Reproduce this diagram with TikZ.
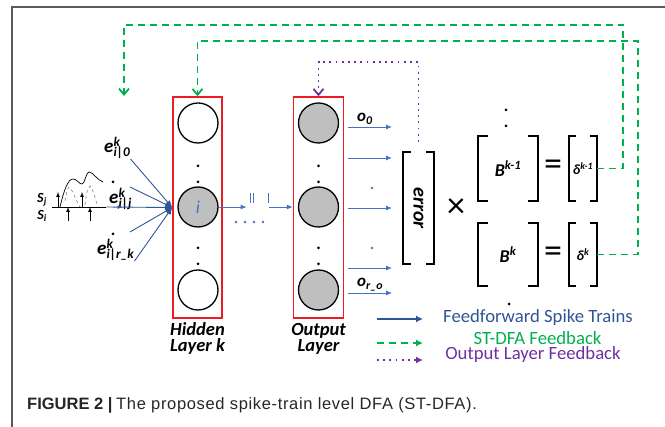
\documentclass[tikz,border=0pt]{standalone}
\usepackage{fontspec}
\setmainfont{Carlito}
\newfontfamily\captionfont{Liberation Sans}
\newfontfamily\captionwide[LetterSpace=4]{Liberation Sans}
\usetikzlibrary{arrows.meta,decorations.markings}
\definecolor{ffblue}{RGB}{68,114,196}
\definecolor{lgblue}{RGB}{47,85,151}
\definecolor{fbgreen}{RGB}{0,176,80}
\definecolor{olpurple}{RGB}{112,48,160}
\definecolor{boxred}{RGB}{237,28,36}
\definecolor{framegray}{RGB}{90,90,90}
\definecolor{cellgray}{RGB}{191,191,191}

\tikzset{
  neuron/.style={circle,draw,line width=1.3pt,minimum size=40pt,inner sep=0pt},
  layerbox/.style={draw=boxred,line width=1.5pt,minimum width=49pt,minimum height=221pt},
  ffarrow/.style={-{Latex[length=6pt,width=5pt]},ffblue,line width=0.9pt},
  inarrow/.style={-{Latex[length=7pt,width=6pt]},lgblue,line width=0.9pt},
  fbline/.style={fbgreen,line width=1.8pt,dash pattern=on 7pt off 5pt},
  olline/.style={olpurple,line width=1.8pt,dash pattern=on 1.8pt off 4.4pt},
  vtip/.style={-{Straight Barb[length=6pt,width=10pt]}},
  lbl/.style={font=\fontsize{18.5}{16}\selectfont\bfseries\itshape,inner sep=0pt},
  elbl/.style={font=\fontsize{19}{19}\selectfont\bfseries\itshape,inner sep=0pt,anchor=base west},
  slbl/.style={font=\fontsize{14}{14}\selectfont\bfseries\itshape,inner sep=0pt},
  olbl/.style={font=\fontsize{17}{17}\selectfont\bfseries\itshape,inner sep=0pt,anchor=base west},
  mat/.style={inner sep=0pt,font=\fontsize{18}{18}\selectfont\bfseries\itshape},
  mbracket/.style={line width=1.8pt},
  legend/.style={font=\fontsize{18.7}{19}\selectfont,inner sep=0pt},
}

\begin{document}
\begin{tikzpicture}[x=1pt,y=-1pt,>=latex]
\useasboundingbox (0,0) rectangle (665,427);
% frame
\draw[framegray,line width=1.2pt] (12,427) -- (12,7) -- (665,7);

% layers
\node[layerbox] (hbox) at (197.5,207.5) {};
\node[layerbox,minimum width=50pt] (obox) at (318.5,207.5) {};
\node[neuron] (h1) at (198,123) {};
\node[neuron,fill=cellgray,font=\fontsize{18}{18}\selectfont\itshape,text=ffblue] (hi) at (198,207) {i};
\node[neuron] (hn) at (198,290) {};
\foreach \y/\n in {123/1,207/2,290/3}
  \node[neuron,fill=cellgray] (o\n) at (318.5,\y) {};
\foreach \y in {166,182,248,264}{
  \fill (198,\y) circle (1.5);
  \fill (318.5,\y) circle (1.5);
}
\node[lbl,align=center,anchor=north] (hlab) at ([yshift=-4pt]hbox.south) {Hidden\\Layer k};
\node[lbl,align=center,anchor=north] (olab) at ([yshift=-4pt]obox.south) {Output\\Layer};

% input spike trains
\coordinate (conv) at (hbox.west);
\node[slbl] (sj) at (42,200) {S\textsubscript{j}};
\node[slbl] (si) at (42,216) {S\textsubscript{i}};
\draw[line width=0.8pt] (52,207) -- (106,207) coordinate (axend);
\foreach \x in {58,82}
  \draw[->,line width=0.7pt] (\x,207) -- (\x,192);
\foreach \x in {68,90}
  \draw[->,line width=0.7pt] (\x,221) -- (\x,207);
\draw[line width=0.7pt] (60,207) .. controls (64,190) and (68,179) .. (73,179)
  .. controls (77,179) and (79,184) .. (82,184) .. controls (85,184) and (86,172) .. (89,172)
  .. controls (93,172) and (97,180) .. (103,182);
\draw[gray,dashed,line width=0.6pt] (65,201) .. controls (67,190) .. (69,187) .. controls (73,190) and (77,203) .. (80,207);
\draw[gray,dashed,line width=0.6pt] (85,205) .. controls (87,190) .. (90,186) .. controls (94,190) and (96,203) .. (98,207);

\node[elbl] (e0) at (104,153) {e\rlap{\textsuperscript{k}}\textsubscript{i|0}};
\node[elbl] (ej) at (109,204) {e\rlap{\textsuperscript{k}}\textsubscript{i|j}};
\node[elbl] (er) at (97,255) {e\rlap{\textsuperscript{k}}\textsubscript{i|r\_k}};
\coordinate (e1s) at (130,187);
\coordinate (e3s) at (130,232);
\fill (113,182) circle (1.5);
\fill (113,234) circle (1.5);
\draw[inarrow] (e0.south east) -- (conv);
\draw[inarrow] (e1s) -- (conv);
\draw[inarrow,postaction={decorate},decoration={markings,mark=at position 0.25 with {\arrow{Latex[length=5pt,width=4pt]}}}] (axend) -- (conv);
\draw[inarrow] (e3s) -- (conv);
\draw[inarrow] (er.south east) -- (conv);

% hidden to output
\draw[ffarrow] (hi.east) -- ++(28,0) coordinate (gapL);
\foreach \x in {250,253,268}
  \draw[ffblue,line width=1pt] (\x,193) -- (\x,203);
\coordinate (gapR) at (269,207);
\draw[ffarrow] (gapR) -- (gapR -| obox.west);
\foreach \x in {236,245,254,263}
  \fill[ffblue] (\x,222) circle (1.3);

% outputs
\foreach \y/\n in {127/0,158/1,208/2,268/3,293/4}{
  \coordinate (oend\n) at (392,\y);
  \draw[ffarrow] ([xshift=4pt]obox.east |- oend\n) -- (oend\n);
}
\fill[ffblue] (372,188) circle (1.3);
\fill[ffblue] (372,248) circle (1.3);
\node[olbl] (o0lab) at (357,122) {o\textsubscript{0}};
\node[olbl] (orlab) at (357,287) {o\textsubscript{r\_o}};

% matrices
\node[mat,minimum width=31pt,minimum height=112pt] (err) at (418.5,208) {};
\node[font=\fontsize{20}{20}\selectfont\bfseries\itshape,rotate=-90] (errtxt) at (err) {error};
\node[mat,minimum width=60pt,minimum height=65pt] (bk1) at (508,168.5) {B\textsuperscript{k-1}};
\node[mat,minimum width=28pt,minimum height=65pt,font=\fontsize{14}{14}\selectfont\bfseries\itshape] (dk1) at (583,168.5) {δ\textsuperscript{k-1}};
\node[mat,minimum width=60pt,minimum height=63pt] (bk) at (508,254.5) {B\textsuperscript{k}};
\node[mat,minimum width=28pt,minimum height=63pt,font=\fontsize{14}{14}\selectfont\bfseries\itshape] (dk) at (583,254.5) {δ\textsuperscript{k}};
\foreach \m/\a in {err/8,bk1/10,dk1/7,bk/10,dk/7}{
  \draw[mbracket] ([xshift=\a pt]\m.north west) -| (\m.south west) -- ++(\a,0);
  \draw[mbracket] ([xshift=-\a pt]\m.north east) -| (\m.south east) -- ++(-\a,0);
}
\node[font=\fontsize{36}{36}\selectfont] (times) at (456,208) {×};
\node[font=\fontsize{36}{36}\selectfont] (eq1) at (553,168) {=};
\node[font=\fontsize{36}{36}\selectfont] (eq2) at (553,255) {=};
\foreach \y in {110,126}
  \fill (506,\y) circle (1.5);
\fill (509,304) circle (1.5);

% feedback paths
\coordinate (fbend) at (124,96);
\draw[fbline,vtip] (dk1.east) -- ++(26,0) |- ([yshift=71pt]fbend) -- (fbend);
\draw[fbline,vtip] (dk.east) -- ++(41,0) |- ([yshift=55pt]hbox.north) -- (hbox.north);
\draw[olline,vtip] ([yshift=10pt]err.north) -- ++(0,-80) -| (obox.north);

% legend
\node[legend,text=lgblue] (lg1) at (538,318) {Feedforward Spike Trains};
\node[legend,text=fbgreen] (lg2) at (537.5,338) {ST-DFA Feedback};
\node[legend,text=olpurple] (lg3) at (533,355) {Output Layer Feedback};
\coordinate (lg1a) at (377,319); \coordinate (lg1b) at (423,319);
\coordinate (lg2a) at (377,343); \coordinate (lg2b) at (423,343);
\coordinate (lg3a) at (377,360); \coordinate (lg3b) at (423,360);
\draw[-{Latex[length=7pt,width=7pt]},lgblue,line width=1.4pt] (lg1a) -- (lg1b);
\draw[-{Latex[length=7pt,width=7pt]},fbline] (lg2a) -- (lg2b);
\draw[-{Latex[length=7pt,width=7pt]},olline] (lg3a) -- (lg3b);

% caption
\node[anchor=base west,font=\fontsize{16.5}{17}\selectfont,inner sep=0pt,text=black!85] (cap) at (27,410) {{\captionfont\bfseries FIGURE 2 |} {\captionwide The proposed spike-train level DFA (ST-DFA).}};
\end{tikzpicture}
\end{document}
